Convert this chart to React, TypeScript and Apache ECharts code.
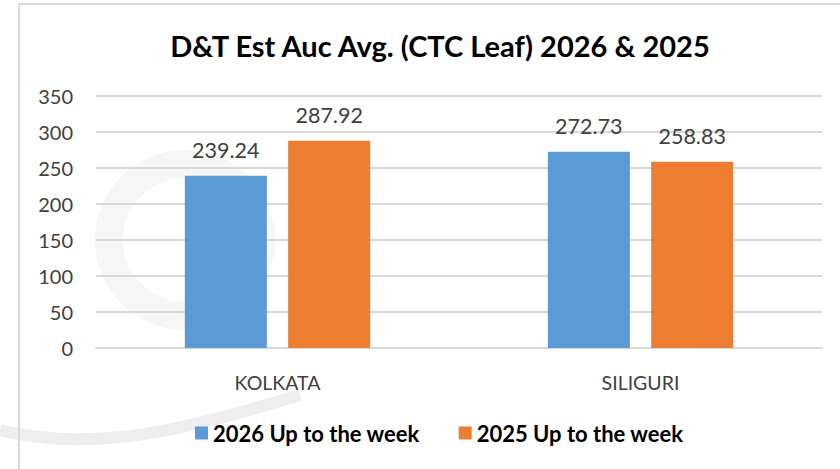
import React, { useEffect, useRef } from "react";
import * as echarts from "echarts";

const categories = ["KOLKATA", "SILIGURI"];
const series2026 = [239.24, 272.73];
const series2025 = [287.92, 258.83];
const seriesNames = ["2026 Up to the week", "2025 Up to the week"];
const titleText = "D&T Est Auc Avg. (CTC Leaf) 2026 & 2025";

const FONT = "Lato, 'Open Sans', sans-serif";

export default function App() {
  const ref = useRef<HTMLDivElement>(null);
  useEffect(() => {
    const chart = echarts.init(ref.current!, null, { renderer: "svg" });
    const label = {
      show: true,
      position: "top",
      distance: 15,
      fontFamily: FONT,
      fontSize: 21.5,
      color: "#404040",
      formatter: (p: any) => p.value.toFixed(2),
    };
    chart.setOption({
      animation: false,
      backgroundColor: "#ffffff",
      title: {
        text: titleText,
        left: 435,
        textAlign: "center",
        top: 26,
        textStyle: { fontFamily: FONT, fontSize: 29, fontWeight: "bold", color: "#000000" },
      },
      graphic: [
        { type: "line", shape: { x1: 19, y1: 4, x2: 840, y2: 4 }, style: { stroke: "#d9d9d9", lineWidth: 2 }, z: 0 },
        { type: "line", shape: { x1: 19, y1: 4, x2: 19, y2: 469 }, style: { stroke: "#d9d9d9", lineWidth: 2 }, z: 0 },
        { type: "ring", shape: { cx: 185, cy: 240, r: 90, r0: 62 }, style: { fill: "#f6f6f6" }, z: -1, silent: true },
        { type: "bezierCurve", shape: { x1: 0, y1: 430, x2: 300, y2: 395, cpx1: 100, cpy1: 455, cpx2: 200, cpy2: 425 }, style: { stroke: "#eeeeee", lineWidth: 12, fill: "none" }, z: -1, silent: true },
      ],
      legend: {
        data: seriesNames,
        orient: "horizontal",
        left: 190,
        top: 417,
        icon: "rect",
        itemWidth: 13,
        itemHeight: 13,
        itemGap: 39,
        textStyle: { fontFamily: FONT, fontSize: 22, fontWeight: "bold", color: "#000000" },
      },
      grid: { left: 96, right: 18, top: 96, bottom: 121 },
      xAxis: {
        type: "category",
        data: categories,
        axisLine: { lineStyle: { color: "#d9d9d9", width: 2 } },
        axisTick: { show: false },
        axisLabel: { fontFamily: FONT, fontSize: 19.5, color: "#404040", margin: 24 },
      },
      yAxis: {
        type: "value",
        min: 0,
        max: 350,
        interval: 50,
        axisLine: { show: false },
        axisTick: { show: false },
        splitLine: { lineStyle: { color: "#d9d9d9", width: 2 } },
        axisLabel: { fontFamily: FONT, fontSize: 20, color: "#404040", margin: 23 },
      },
      series: [
        {
          name: seriesNames[0],
          type: "bar",
          data: series2026,
          barWidth: 82,
          barGap: "26%",
          itemStyle: { color: "#5b9bd5" },
          label,
        },
        {
          name: seriesNames[1],
          type: "bar",
          data: series2025,
          barWidth: 82,
          barGap: "26%",
          itemStyle: { color: "#ed7d31" },
          label,
        },
      ],
    });
    return () => chart.dispose();
  }, []);
  return <div ref={ref} style={{ position: "fixed", left: 0, top: 0, width: 840, height: 469 }} />;
}
